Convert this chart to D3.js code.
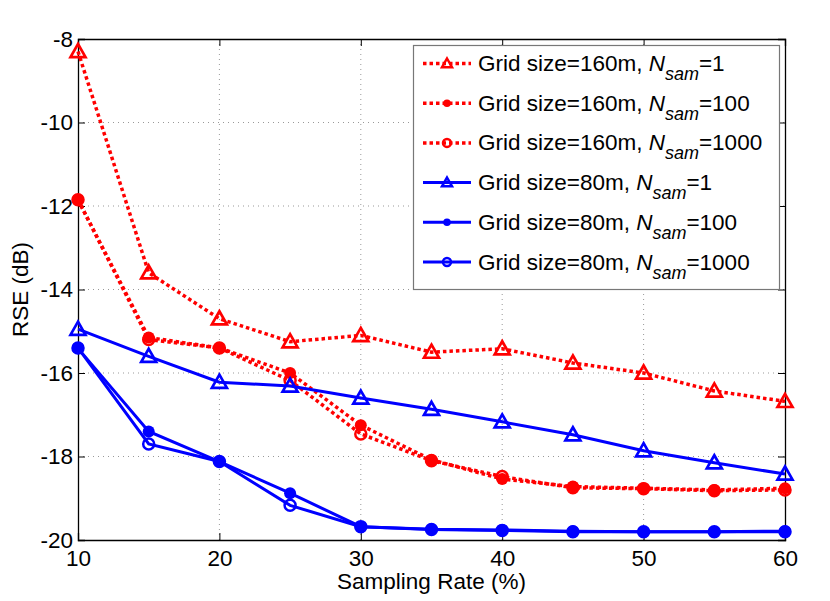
<!DOCTYPE html>
<html>
<head>
<meta charset="utf-8">
<script src="https://cdn.jsdelivr.net/npm/d3@7"></script>
<style>
  body { margin: 0; background: #fff; }
  text { font-family: "Liberation Sans", Arial, sans-serif; }
</style>
</head>
<body>
<div id="chart"></div>
<script>
// Chart data
var rates = [10, 15, 20, 25, 30, 35, 40, 45, 50, 55, 60];
var grid160n1 = [-8.3, -13.6, -14.7, -15.25, -15.1, -15.5, -15.42, -15.76, -16.0, -16.43, -16.68];
var grid160n100 = [-11.85, -15.15, -15.4, -16.0, -17.25, -18.08, -18.54, -18.72, -18.76, -18.8, -18.76];
var grid160n1000 = [-11.85, -15.2, -15.4, -16.18, -17.46, -18.1, -18.48, -18.75, -18.77, -18.82, -18.8];
var grid80n1 = [-14.95, -15.6, -16.22, -16.31, -16.6, -16.87, -17.17, -17.48, -17.86, -18.15, -18.42];
var grid80n100 = [-15.41, -17.4, -18.12, -18.88, -19.68, -19.74, -19.76, -19.79, -19.8, -19.8, -19.79];
var grid80n1000 = [-15.4, -17.7, -18.12, -19.17, -19.68, -19.75, -19.77, -19.8, -19.8, -19.8, -19.8];
var xTicks = [10, 20, 30, 40, 50, 60];
var yTicks = [-20, -18, -16, -14, -12, -10, -8];

var series = [
  {grid: "160m", nsam: "1", values: grid160n1, color: "#ff0000", dotted: true, marker: "triangle"},
  {grid: "160m", nsam: "100", values: grid160n100, color: "#ff0000", dotted: true, marker: "dot"},
  {grid: "160m", nsam: "1000", values: grid160n1000, color: "#ff0000", dotted: true, marker: "circle"},
  {grid: "80m", nsam: "1", values: grid80n1, color: "#0000ff", dotted: false, marker: "triangle"},
  {grid: "80m", nsam: "100", values: grid80n100, color: "#0000ff", dotted: false, marker: "dot"},
  {grid: "80m", nsam: "1000", values: grid80n1000, color: "#0000ff", dotted: false, marker: "circle"}
];

var svgWidth = 830;
var svgHeight = 601;
var margin = {top: 39, right: 45, bottom: 61, left: 78};
var chartWidth = svgWidth - margin.left - margin.right;
var chartHeight = svgHeight - margin.top - margin.bottom;
var fontSize = "22.5px";

var svg = d3.select("#chart").append("svg")
    .attr("width", svgWidth)
    .attr("height", svgHeight);

var chartGroup = svg.append("g")
    .attr("transform", `translate(${margin.left}, ${margin.top})`);

var x = d3.scaleLinear().domain([10, 60]).range([0, chartWidth]);
var y = d3.scaleLinear().domain([-20, -8]).range([chartHeight, 0]);

// dotted grid
chartGroup.append("g").selectAll("line")
    .data(xTicks.slice(1, -1))
    .enter().append("line")
    .attr("x1", d => x(d)).attr("x2", d => x(d))
    .attr("y1", 0).attr("y2", chartHeight)
    .attr("stroke", "#999").attr("stroke-width", 1).attr("stroke-dasharray", "1,4");

chartGroup.append("g").selectAll("line")
    .data(yTicks.slice(1, -1))
    .enter().append("line")
    .attr("x1", 0).attr("x2", chartWidth)
    .attr("y1", d => y(d)).attr("y2", d => y(d))
    .attr("stroke", "#999").attr("stroke-width", 1).attr("stroke-dasharray", "1,4");

// axes with inward ticks
var bottomAxis = d3.axisBottom(x).tickValues(xTicks).tickSize(-7).tickPadding(10).tickFormat(d3.format("d"));
var leftAxis = d3.axisLeft(y).tickValues(yTicks).tickSize(-7).tickPadding(5).tickFormat(d => d3.format("d")(d).replace("−", "-"));
var topAxis = d3.axisTop(x).tickValues(xTicks).tickSize(-7).tickFormat("");
var rightAxis = d3.axisRight(y).tickValues(yTicks).tickSize(-7).tickFormat("");

function styleAxis(g) {
  g.selectAll("path").attr("stroke", "#000").attr("stroke-width", 1.3);
  g.selectAll("line").attr("stroke", "#000");
  g.selectAll("text").attr("font-size", fontSize).attr("fill", "#000")
    .attr("font-family", "Liberation Sans, Arial, sans-serif");
}

chartGroup.append("g").attr("transform", `translate(0, ${chartHeight})`).call(bottomAxis).call(styleAxis);
chartGroup.append("g").call(leftAxis).call(styleAxis);
chartGroup.append("g").call(topAxis).call(styleAxis);
chartGroup.append("g").attr("transform", `translate(${chartWidth}, 0)`).call(rightAxis).call(styleAxis);

// lines
var line = d3.line()
    .x((d, i) => x(rates[i]))
    .y(d => y(d));

function drawMarker(g, s, cx, cy, small) {
  if (s.marker === "triangle") {
    var h = small ? 5 : 7.5;
    g.append("path")
      .attr("d", `M${cx},${cy - h}L${cx + h},${cy + h * 0.75}L${cx - h},${cy + h * 0.75}Z`)
      .attr("fill", "none").attr("stroke", s.color).attr("stroke-width", small ? 2.5 : 2.7);
  } else if (s.marker === "dot") {
    g.append("circle").attr("cx", cx).attr("cy", cy).attr("r", small ? 3.8 : 6)
      .attr("fill", s.color);
  } else {
    g.append("circle").attr("cx", cx).attr("cy", cy).attr("r", small ? 4 : 5.5)
      .attr("fill", "none").attr("stroke", s.color).attr("stroke-width", 2.5);
  }
}

series.forEach(function(s) {
  chartGroup.append("path")
    .datum(s.values)
    .attr("d", line)
    .attr("fill", "none")
    .attr("stroke", s.color)
    .attr("stroke-width", s.dotted ? 3.5 : 3)
    .attr("stroke-dasharray", s.dotted ? "3.5,3" : null);
  var mg = chartGroup.append("g");
  s.values.forEach(function(v, i) {
    drawMarker(mg, s, x(rates[i]), y(v), false);
  });
});

// axis labels
svg.append("text")
    .attr("x", margin.left + chartWidth / 2)
    .attr("y", 589)
    .attr("text-anchor", "middle")
    .attr("font-size", fontSize)
    .text("Sampling Rate (%)");

svg.append("text")
    .attr("transform", `translate(28, ${margin.top + chartHeight / 2}) rotate(-90)`)
    .attr("text-anchor", "middle")
    .attr("font-size", fontSize)
    .text("RSE (dB)");

// legend
var legend = svg.append("g");
legend.append("rect")
    .attr("x", 413.5).attr("y", 45.5)
    .attr("width", 366).attr("height", 244)
    .attr("fill", "#fff").attr("stroke", "#777").attr("stroke-width", 1.2);

series.forEach(function(s, i) {
  var cy = 63.5 + i * 39.7;
  var row = legend.append("g");
  row.append("line")
    .attr("x1", 423).attr("x2", 471)
    .attr("y1", cy).attr("y2", cy)
    .attr("stroke", s.color)
    .attr("stroke-width", s.dotted ? 3.5 : 3)
    .attr("stroke-dasharray", s.dotted ? "3.5,3" : null);
  drawMarker(row, s, 447, cy, true);
  var t = row.append("text")
    .attr("x", 478).attr("y", cy + 7.5)
    .attr("font-size", fontSize);
  t.append("tspan").text("Grid size=" + s.grid + ", ");
  t.append("tspan").attr("font-style", "italic").text("N");
  t.append("tspan").attr("font-style", "italic").attr("font-size", "18px").attr("dy", 9).text("sam");
  t.append("tspan").attr("dy", -9).text("=" + s.nsam);
});
</script>
</body>
</html>
